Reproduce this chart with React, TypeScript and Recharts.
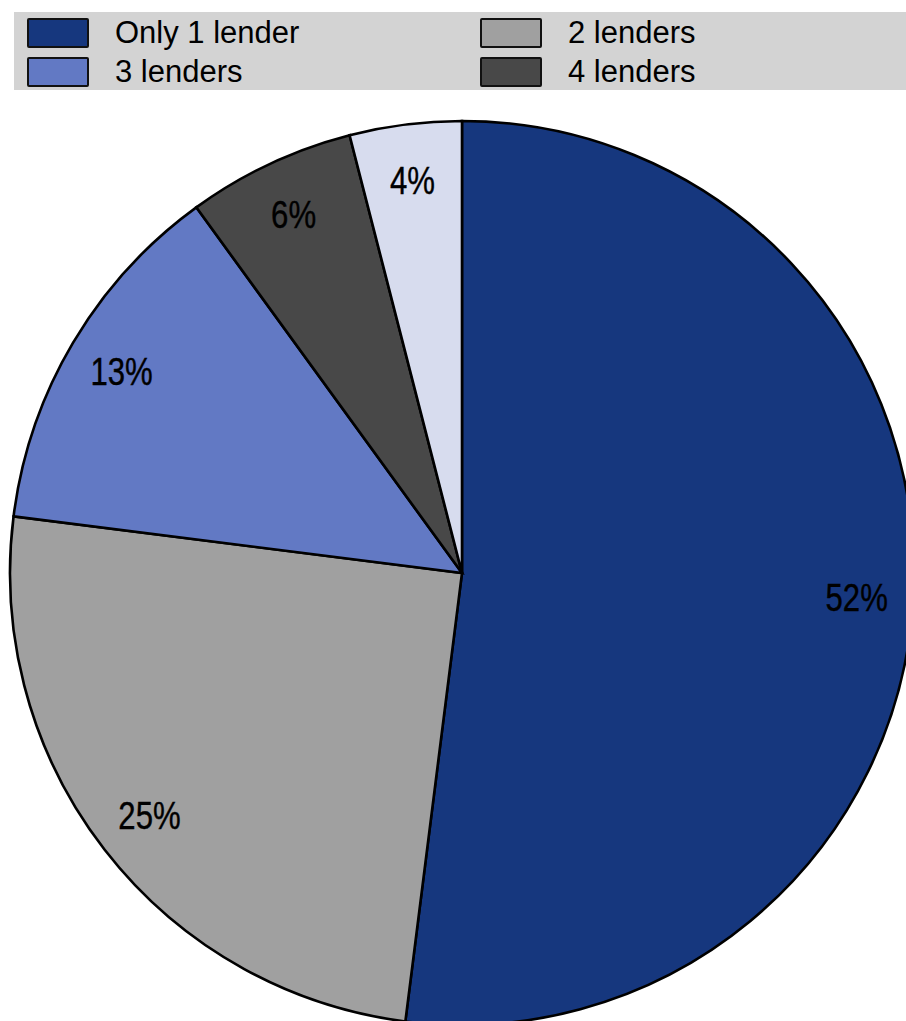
import React from 'react'
import { PieChart, Pie, Cell } from 'recharts'

const lenderGroups = ['Only 1 lender', '2 lenders', '3 lenders', '4 lenders', '5 or more lenders']
const shares = [52, 25, 13, 6, 4]
const sliceColors = ['#16377e', '#a0a0a0', '#6279c4', '#484848', '#d7dcee']
const legendCount = 4

const pieData = lenderGroups.map((name, i) => ({ name, value: shares[i] }))

const RAD = Math.PI / 180

function renderLabel(props: any) {
  const { cx, cy, midAngle, outerRadius, value } = props
  const r = outerRadius * 0.875
  const x = cx + r * Math.cos(-midAngle * RAD)
  const y = cy + r * Math.sin(-midAngle * RAD)
  return (
    <g transform={`translate(${x},${y}) scale(0.82,1)`}>
      <text
        x={0}
        y={0}
        fill="#000"
        stroke="#000"
        strokeWidth={0.4}
        textAnchor="middle"
        dominantBaseline="central"
        fontSize={38}
        fontFamily="'Liberation Sans', Arial, sans-serif"
      >
        {`${value}%`}
      </text>
    </g>
  )
}

function LegendBox() {
  const items = lenderGroups.slice(0, legendCount)
  return (
    <div
      style={{
        position: 'absolute',
        left: 14,
        top: 12,
        width: 892,
        height: 78,
        background: '#d3d3d3',
      }}
    >
      {items.map((name, i) => {
        const col = i % 2
        const row = Math.floor(i / 2)
        return (
          <div
            key={name}
            style={{
              position: 'absolute',
              left: 13 + col * 453,
              top: 6 + row * 39,
              height: 30,
              display: 'flex',
              alignItems: 'center',
            }}
          >
            <div
              style={{
                width: 58,
                height: 26,
                background: sliceColors[i],
                border: '2px solid #111',
                borderRadius: 2,
              }}
            />
            <span
              style={{
                marginLeft: 26,
                fontSize: 31,
                fontFamily: "'Liberation Sans', Arial, sans-serif",
                color: '#000',
                lineHeight: '30px',
              }}
            >
              {name}
            </span>
          </div>
        )
      })}
    </div>
  )
}

export default function App() {
  return (
    <div
      style={{
        position: 'absolute',
        left: 0,
        top: 0,
        width: 906,
        height: 1021,
        overflow: 'hidden',
        background: '#fff',
      }}
    >
      <PieChart
        width={906}
        height={1021}
        margin={{ top: 0, right: 0, bottom: 0, left: 0 }}
        style={{ position: 'absolute', left: 0, top: 0 }}
      >
        <Pie
          data={pieData}
          dataKey="value"
          nameKey="name"
          cx={462}
          cy={573}
          outerRadius={452}
          startAngle={90}
          endAngle={-270}
          stroke="#000"
          strokeWidth={2.6}
          labelLine={false}
          label={renderLabel}
          isAnimationActive={false}
        >
          {pieData.map((d, i) => (
            <Cell key={d.name} fill={sliceColors[i]} stroke="#000" strokeWidth={2.6} />
          ))}
        </Pie>
      </PieChart>
      <LegendBox />
    </div>
  )
}
